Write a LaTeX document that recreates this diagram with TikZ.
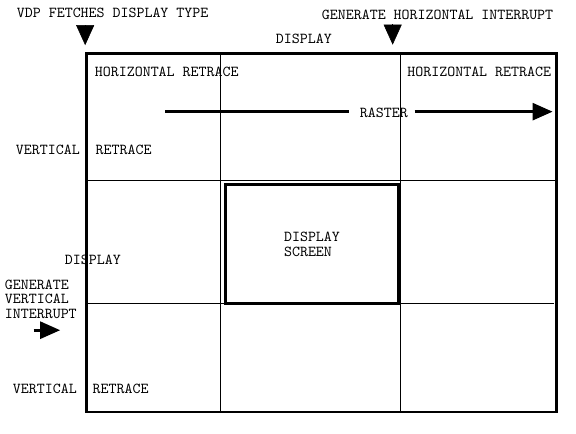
\documentclass[tikz,border=0pt]{standalone}
\usepackage{fontspec}
\usetikzlibrary{arrows.meta}

\begin{document}
\begin{tikzpicture}[x=0.025cm,y=-0.025cm]

\tikzstyle{txt} = [font=\ttfamily\fontsize{10.8}{10.5}\selectfont, inner sep=0pt, anchor=west, align=left, yshift=-1.4pt]
\tikzstyle{frame} = [draw=black, line width=1.8pt, minimum width=11.75cm, minimum height=8.9625cm, inner sep=0pt]
\tikzstyle{screen} = [draw=black, line width=1.9pt, minimum width=4.335cm, minimum height=2.975cm, inner sep=0pt, font=\ttfamily\fontsize{10.8}{11.1}\selectfont, align=left]
\tikzstyle{grid} = [draw=black, line width=0.7pt]
\tikzstyle{rasterline} = [draw=black, line width=1.9pt]
\tikzstyle{rasterarrow} = [draw=black, line width=1.9pt, -{Triangle[length=0.5cm,width=0.425cm]}]
\tikzstyle{marktip} = [draw=black, -{Triangle[length=0.5cm,width=0.45cm]}]

\useasboundingbox (0,0) rectangle (576,433);

\coordinate (anchor) at (0,0);

%Frame: the whole raster

\path (anchor)+(321.5,232.75) node (frame) [frame] {};

%Grid lines: retrace bands

\path (frame.north west)+(135,0) coordinate (vline_1a);
\path (frame.south west)+(135,-1) coordinate (vline_1b);
\draw [grid] (vline_1a) -- (vline_1b);

\path (frame.north west)+(315,0) coordinate (vline_2a);
\path (frame.south west)+(315,-1) coordinate (vline_2b);
\draw [grid] (vline_2a) -- (vline_2b);

\path (frame.north west)+(0,128.2) coordinate (hline_1a);
\path (frame.north east)+(0,128.2) coordinate (hline_1b);
\draw [grid] (hline_1a) -- (hline_1b);

\path (frame.north west)+(0,251.5) coordinate (hline_2a);
\path (frame.north east)+(-3.5,251.5) coordinate (hline_2b);
\draw [grid] (hline_2a) -- (hline_2b);

%Display screen: centre

\path (anchor)+(312,244.2) node (screen) [screen] {DISPLAY\\SCREEN};

%Labels: top

\path (frame.north west)+(-68.5,-41.5) node (vdp_text) [txt] {VDP FETCHES DISPLAY TYPE};
\path (frame.north west)+(236.5,-39.5) node (hint_text) [txt] {GENERATE HORIZONTAL INTERRUPT};
\path (frame.north west)+(190.5,-15.5) node (display_top) [txt] {DISPLAY};

\path (frame.north west)+(9.5,17.5) node (hr_left) [txt] {HORIZONTAL RETRACE};
\path (frame.north west)+(322,17.5) node (hr_right) [txt] {HORIZONTAL RETRACE};

\path (frame.north west)+(274.5,58.5) node (raster) [txt] {RASTER};

%Labels: left

\path (frame.north west)+(-69.5,96) node (vr_top) [txt] {VERTICAL\ \ RETRACE};
\path (frame.north west)+(-20.5,206) node (display_left) [txt] {DISPLAY};
\path (frame.north west)+(-80.5,245) node (gvi_text) [txt] {GENERATE\\VERTICAL\\INTERRUPT};
\path (frame.north west)+(-72.5,335) node (vr_bottom) [txt] {VERTICAL\ \ RETRACE};

%Arrows

\path (frame.north west)+(0,-27) coordinate (vdp_mark_a);
\path (frame.north west)+(0,-7) coordinate (vdp_mark_b);
\draw [marktip] (vdp_mark_a) -- (vdp_mark_b);

\path (frame.north west)+(307.5,-28) coordinate (hint_mark_a);
\path (frame.north west)+(307.5,-7.5) coordinate (hint_mark_b);
\draw [marktip] (hint_mark_a) -- (hint_mark_b);

\path (raster.west)+(-194.5,-1) coordinate (arrow_1l);
\path (raster.west)+(-10.5,-1) coordinate (arrow_1r);
\draw [rasterline] (arrow_1l) -- (arrow_1r);

\path (raster.east)+(6.5,-1) coordinate (arrow_2l);
\path (raster.east)+(144.5,-1) coordinate (arrow_2r);
\draw [rasterarrow] (arrow_2l) -- (arrow_2r);

\path (frame.north west)+(-51.5,278) coordinate (arrow_3l);
\path (frame.north west)+(-25,278) coordinate (arrow_3r);
\draw [rasterarrow] (arrow_3l) -- (arrow_3r);

\end{tikzpicture}
\end{document}
